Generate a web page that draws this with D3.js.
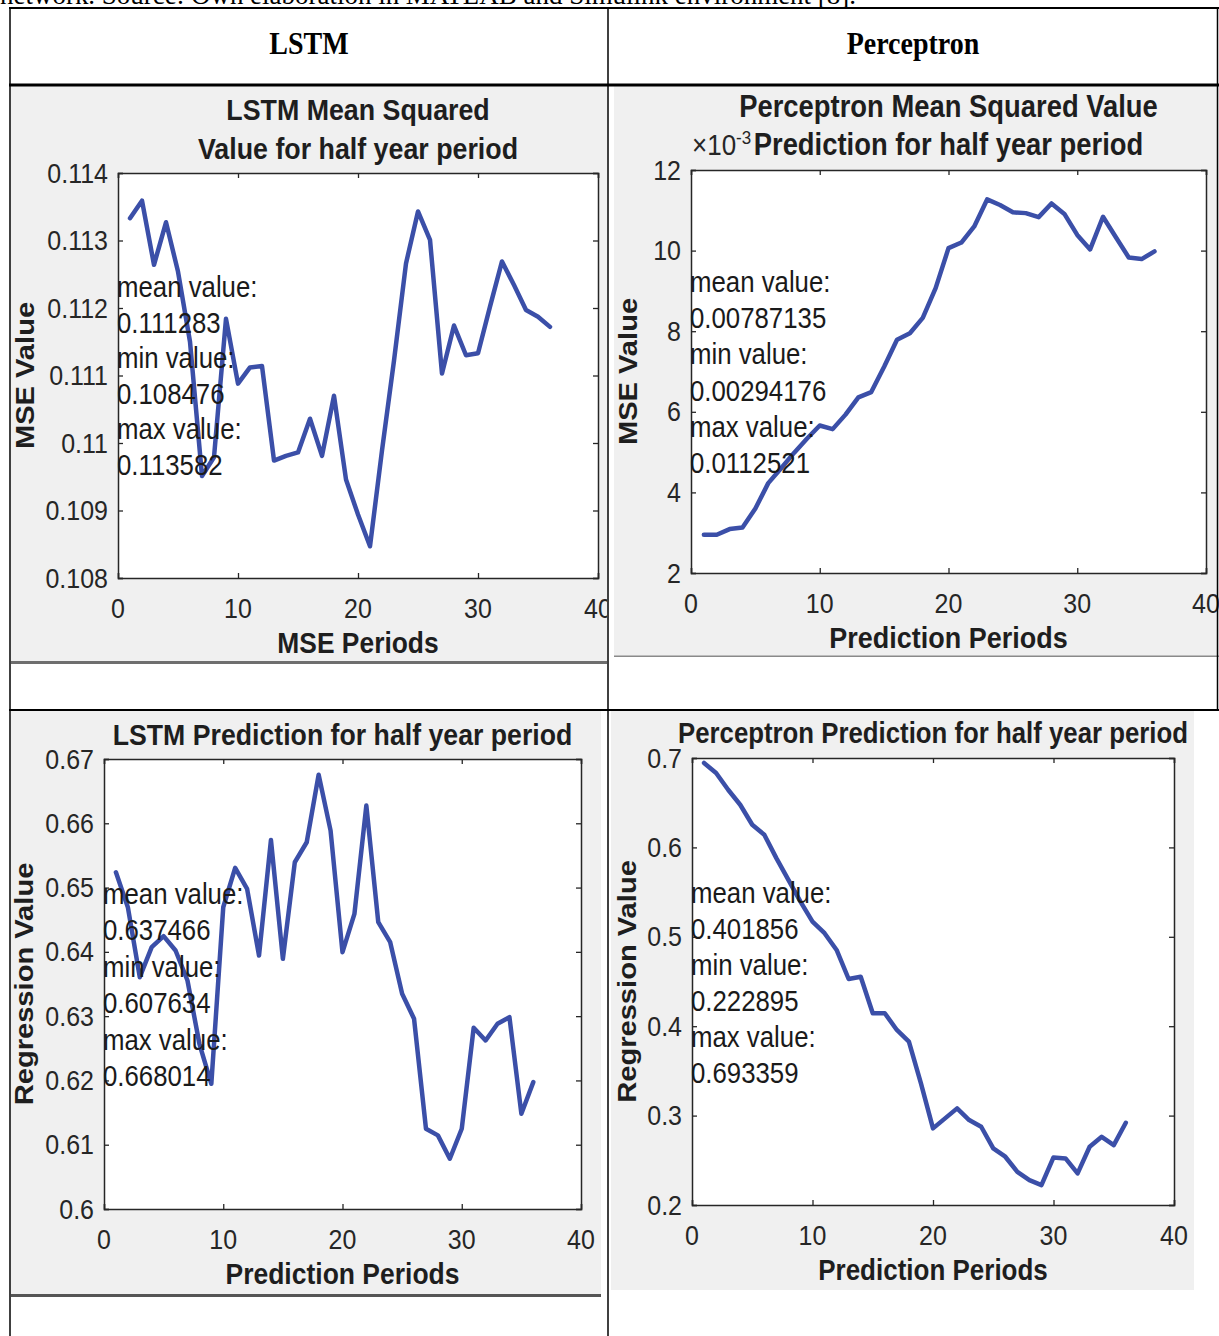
<!DOCTYPE html>
<html>
<head>
<meta charset="utf-8">
<script src="https://cdn.jsdelivr.net/npm/d3@7"></script>
<style>
  html, body { margin: 0; padding: 0; background: #ffffff; }
  svg { display: block; }
</style>
</head>
<body>
<svg id="chart" width="1219" height="1336"></svg>
<script>
// ---------------- DATA ----------------
const periods = [1,2,3,4,5,6,7,8,9,10,11,12,13,14,15,16,17,18,19,20,21,22,23,24,25,26,27,28,29,30,31,32,33,34,35,36];

const lstmMse = [0.11333,0.11359,0.11264,0.11327,0.11254,0.11150,0.10951,0.10979,0.11184,0.11088,
                 0.11112,0.11114,0.10974,0.10981,0.10986,0.11036,0.10981,0.11070,0.10946,0.10894,
                 0.10847,0.10989,0.11122,0.11266,0.11343,0.11301,0.11103,0.11174,0.11130,0.11133,
                 0.11202,0.11269,0.11234,0.11197,0.11187,0.11172];

const perceptronMse = [0.00295,0.00295,0.00309,0.00313,0.00360,0.00423,0.00460,0.00498,0.00533,0.00566,
                       0.00557,0.00593,0.00636,0.00649,0.00712,0.00779,0.00795,0.00833,0.00907,0.01006,
                       0.01020,0.01060,0.01127,0.01113,0.01095,0.01093,0.01083,0.01117,0.01091,0.01039,
                       0.01003,0.01084,0.01033,0.00983,0.00979,0.00998];

const lstmPred = [0.65238,0.64694,0.63606,0.64073,0.64244,0.64021,0.63554,0.62570,0.61948,0.64694,
                  0.65306,0.64980,0.63943,0.65741,0.63891,0.65394,0.65705,0.66756,0.65886,0.63995,
                  0.64590,0.66275,0.64461,0.64150,0.63347,0.62959,0.61249,0.61145,0.60782,0.61249,
                  0.62819,0.62622,0.62881,0.62984,0.61482,0.61974];

const perceptronPred = [0.6944,0.6832,0.6645,0.6477,0.6253,0.6141,0.5880,0.5637,0.5394,0.5170,
                        0.5040,0.4853,0.4528,0.4554,0.4145,0.4145,0.3958,0.3827,0.3361,0.2857,
                        0.2969,0.3081,0.2950,0.2875,0.2633,0.2540,0.2371,0.2278,0.2222,0.2532,
                        0.2521,0.2353,0.2651,0.2763,0.2670,0.2920];

const xTicks = [0,10,20,30,40];
const xTickLabels = ["0","10","20","30","40"];

const lstmMseTicks = [0.108,0.109,0.110,0.111,0.112,0.113,0.114];
const lstmMseTickLabels = ["0.108","0.109","0.11","0.111","0.112","0.113","0.114"];

const perceptronMseTicks = [0.002,0.004,0.006,0.008,0.010,0.012];
const perceptronMseTickLabels = ["2","4","6","8","10","12"];

const lstmPredTicks = [0.60,0.61,0.62,0.63,0.64,0.65,0.66,0.67];
const lstmPredTickLabels = ["0.6","0.61","0.62","0.63","0.64","0.65","0.66","0.67"];

const perceptronPredTicks = [0.2,0.3,0.4,0.5,0.6,0.7];
const perceptronPredTickLabels = ["0.2","0.3","0.4","0.5","0.6","0.7"];

const lstmMseStats = ["mean value:","0.111283","min value:","0.108476","max value:","0.113582"];
const perceptronMseStats = ["mean value:","0.00787135","min value:","0.00294176","max value:","0.0112521"];
const lstmPredStats = ["mean value:","0.637466","min value:","0.607634","max value:","0.668014"];
const perceptronPredStats = ["mean value:","0.401856","min value:","0.222895","max value:","0.693359"];

const columnHeaders = ["LSTM","Perceptron"];
const captionText = "network. Source: Own elaboration in MATLAB and Simulink environment [8].";

// ---------------- LAYOUT ----------------
const SY = 1.12;              // vertical stretch of the source picture
const LINE_COLOR = "#3b4fa8";
const AXIS_COLOR = "#262626";
const BG = "#f0f0f0";
const SANS = "'Liberation Sans', Arial, Helvetica, sans-serif";
const SERIF = "'Liberation Serif', 'Times New Roman', serif";

const svg = d3.select("#chart");
const defs = svg.append("defs");

function txt(g, x, y, str, o = {}) {
  const tr = `translate(${x},${y}) scale(1,${SY})` + (o.rotate ? " rotate(-90)" : "");
  const t = g.append("g").attr("transform", tr).append("text")
    .attr("x", 0).attr("y", 0)
    .attr("text-anchor", o.anchor || "start")
    .attr("font-family", o.family || SANS)
    .attr("font-size", o.size || 24)
    .attr("font-weight", o.weight || "normal")
    .attr("fill", o.fill || AXIS_COLOR)
    .text(str);
  if (o.textLength) t.attr("textLength", o.textLength).attr("lengthAdjust", "spacingAndGlyphs");
  return t;
}

// caption (cut at top of page, as in the source)
txt(svg, 0, 4, captionText, {family: SERIF, size: 24, fill: "#000", textLength: 856});

const panels = [
  { id: "p1", bg: {x: 11, y: 86, w: 596, h: 578}, bottomLine: {h: 3, color: "#6e6e6e"},
    plot: {l: 118, r: 598, t: 173, b: 578}, values: lstmMse, yDomain: [0.108, 0.114],
    yTicks: lstmMseTicks, yLabels: lstmMseTickLabels,
    title: ["LSTM Mean Squared", "Value for half year period"], titleY: [120, 159], titleSize: 26.8,
    xLabel: "MSE Periods", xLabelSize: 26.4, yLabel: "MSE Value", yLabelX: 34,
    stats: lstmMseStats, statsY: 297, statsStep: 35.6 },
  { id: "p2", bg: {x: 614, y: 86, w: 605, h: 571}, bottomLine: {h: 1.5, color: "#8a8a8a"},
    plot: {l: 691, r: 1206, t: 170, b: 573}, values: perceptronMse, yDomain: [0.002, 0.012],
    yTicks: perceptronMseTicks, yLabels: perceptronMseTickLabels,
    title: ["Perceptron Mean Squared Value", "Prediction for half year period"], titleY: [117, 155], titleSize: 27.4,
    xLabel: "Prediction Periods", xLabelSize: 27, yLabel: "MSE Value", yLabelX: 637,
    stats: perceptronMseStats, statsY: 292, statsStep: 36.2, exponent: true },
  { id: "p3", bg: {x: 11, y: 711, w: 590, h: 586}, bottomLine: {h: 3, color: "#555555"},
    plot: {l: 104, r: 581, t: 759, b: 1209}, values: lstmPred, yDomain: [0.60, 0.67],
    yTicks: lstmPredTicks, yLabels: lstmPredTickLabels,
    title: ["LSTM Prediction for half year period"], titleY: [745], titleSize: 26.7,
    xLabel: "Prediction Periods", xLabelSize: 26.5, yLabel: "Regression Value", yLabelX: 33,
    stats: lstmPredStats, statsY: 904, statsStep: 36.4 },
  { id: "p4", bg: {x: 611, y: 711, w: 583, h: 579}, bottomLine: null,
    plot: {l: 692, r: 1174, t: 758, b: 1205}, values: perceptronPred, yDomain: [0.2, 0.7],
    yTicks: perceptronPredTicks, yLabels: perceptronPredTickLabels,
    title: ["Perceptron Prediction for half year period"], titleY: [743], titleSize: 25.8,
    xLabel: "Prediction Periods", xLabelSize: 26, yLabel: "Regression Value", yLabelX: 636,
    stats: perceptronPredStats, statsY: 903, statsStep: 36 }
];

panels.forEach(p => {
  defs.append("clipPath").attr("id", "clip-" + p.id)
    .append("rect").attr("x", p.bg.x).attr("y", p.bg.y).attr("width", p.bg.w).attr("height", p.bg.h);

  const g = svg.append("g").attr("clip-path", `url(#clip-${p.id})`);
  g.append("rect").attr("x", p.bg.x).attr("y", p.bg.y).attr("width", p.bg.w).attr("height", p.bg.h).attr("fill", BG);
  if (p.bottomLine) {
    g.append("rect").attr("x", p.bg.x).attr("y", p.bg.y + p.bg.h - p.bottomLine.h)
      .attr("width", p.bg.w).attr("height", p.bottomLine.h).attr("fill", p.bottomLine.color);
  }

  const x = d3.scaleLinear().domain([0, 40]).range([p.plot.l, p.plot.r]);
  const y = d3.scaleLinear().domain(p.yDomain).range([p.plot.b, p.plot.t]);

  // plot area
  g.append("rect").attr("x", p.plot.l).attr("y", p.plot.t)
    .attr("width", p.plot.r - p.plot.l).attr("height", p.plot.b - p.plot.t).attr("fill", "#ffffff");

  // axes with inward ticks on all sides
  const tick = 5;
  const axB = d3.axisBottom(x).tickValues(xTicks).tickSize(-tick).tickFormat("");
  const axT = d3.axisTop(x).tickValues(xTicks).tickSize(-tick).tickFormat("");
  const axL = d3.axisLeft(y).tickValues(p.yTicks).tickSize(-tick).tickFormat("");
  const axR = d3.axisRight(y).tickValues(p.yTicks).tickSize(-tick).tickFormat("");
  const axes = [
    [axB, `translate(0,${p.plot.b})`], [axT, `translate(0,${p.plot.t})`],
    [axL, `translate(${p.plot.l},0)`], [axR, `translate(${p.plot.r},0)`]
  ];
  axes.forEach(([ax, tr]) => {
    const a = g.append("g").attr("transform", tr).call(ax);
    a.select(".domain").attr("stroke", AXIS_COLOR).attr("stroke-width", 1.5);
    a.selectAll(".tick line").attr("stroke", AXIS_COLOR).attr("stroke-width", 1.3);
  });

  // data line
  const line = d3.line().x((d, i) => x(periods[i])).y(d => y(d));
  g.append("path").datum(p.values).attr("d", line)
    .attr("fill", "none").attr("stroke", LINE_COLOR).attr("stroke-width", 4.5)
    .attr("stroke-linejoin", "round").attr("stroke-linecap", "round");

  // tick labels
  xTicks.forEach((v, i) => txt(g, x(v), p.plot.b + 40, xTickLabels[i], {anchor: "middle", size: 25}));
  p.yTicks.forEach((v, i) => txt(g, p.plot.l - 10, y(v) + 9.5, p.yLabels[i], {anchor: "end", size: 25}));

  // titles
  const cx = (p.plot.l + p.plot.r) / 2;
  p.title.forEach((t, i) => txt(g, cx, p.titleY[i], t, {anchor: "middle", size: p.titleSize, weight: "bold", fill: "#1e1e1e"}));
  if (p.exponent) {
    const e = g.append("g").attr("transform", `translate(${p.plot.l + 1},155) scale(1,${SY})`)
      .append("text").attr("font-family", SANS).attr("fill", AXIS_COLOR);
    e.append("tspan").attr("font-size", 26).text("\u00d710");
    e.append("tspan").attr("font-size", 17).attr("dy", -10).text("-3");
  }

  // axis labels
  txt(g, cx, p.plot.b + 75, p.xLabel, {anchor: "middle", size: p.xLabelSize, weight: "bold", fill: "#1e1e1e"});
  txt(g, p.yLabelX, (p.plot.t + p.plot.b) / 2, p.yLabel, {anchor: "middle", size: 26, weight: "bold", fill: "#1e1e1e", rotate: true});

  // statistics annotation
  p.stats.forEach((s, i) => txt(g, p.plot.l - 1, p.statsY + i * p.statsStep, s, {size: 25.8, fill: "#1a1a1a"}));
});

// ---------------- TABLE GRID ----------------
const grid = svg.append("g").attr("stroke", "#000");
grid.append("line").attr("x1", 9).attr("x2", 1219).attr("y1", 8).attr("y2", 8).attr("stroke-width", 2);
grid.append("line").attr("x1", 9).attr("x2", 1219).attr("y1", 85).attr("y2", 85).attr("stroke-width", 3);
grid.append("line").attr("x1", 9).attr("x2", 1219).attr("y1", 710).attr("y2", 710).attr("stroke-width", 2);
grid.append("line").attr("x1", 10).attr("x2", 10).attr("y1", 7).attr("y2", 1336).attr("stroke-width", 1.5);
grid.append("line").attr("x1", 608).attr("x2", 608).attr("y1", 7).attr("y2", 1336).attr("stroke-width", 1.5);
grid.append("line").attr("x1", 1217.5).attr("x2", 1217.5).attr("y1", 7).attr("y2", 710).attr("stroke-width", 1.5);

// column headers
txt(svg, 309, 54, columnHeaders[0], {anchor: "middle", family: SERIF, size: 28, weight: "bold", fill: "#000"});
txt(svg, 913, 54, columnHeaders[1], {anchor: "middle", family: SERIF, size: 28, weight: "bold", fill: "#000"});
</script>
</body>
</html>
